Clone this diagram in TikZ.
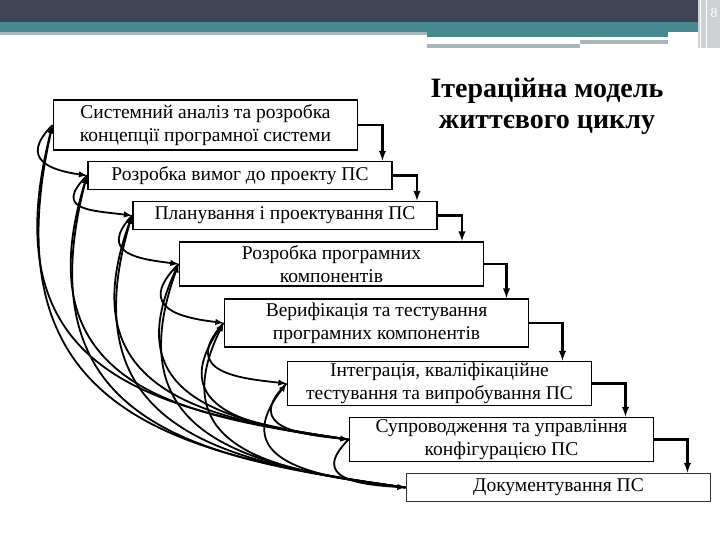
\documentclass[tikz,border=0pt]{standalone}
\usepackage{fontspec}
\setmainfont{Liberation Serif}
\usetikzlibrary{calc}
\definecolor{hdrdark}{HTML}{3E4356}
\definecolor{hdrteal}{HTML}{468A8F}
\definecolor{hdrgrey}{HTML}{A7B8BD}
\definecolor{hdrlight}{HTML}{CBD1D5}
\tikzset{
  stage/.style={draw, line width=1.9pt, fill=white, minimum width=304pt, minimum height=28pt, inner sep=1pt, align=center, font=\fontsize{19.5}{23}\selectfont},
  stepline/.style={line width=2.3pt, -latex},
  feedline/.style={line width=1.8pt, -latex},
}
\def\feedcurve(#1)(#2)(#3)(#4){\draw[feedline] (#1.west) .. controls +(#3) and +(#4) .. (#2.west);}

\begin{document}
\begin{tikzpicture}[x=1pt, y=-1pt]
		\useasboundingbox (0, 0) rectangle (720, 540);
		%%%%% HEADER %%%%%
		\fill[hdrdark] (0, 0) rectangle (698, 22);
		\fill[hdrteal] (0, 22) rectangle (698, 32);
		\fill[hdrgrey] (0, 32) rectangle (427, 35);
		\fill[hdrteal] (427, 32) rectangle (668, 37);
		\fill[hdrgrey] (580, 40) rectangle (668, 44);
		\fill[hdrgrey] (427, 44) rectangle (580, 48);
		\fill[hdrlight] (698, 0) rectangle (720, 48);
		\draw[white, line width=1pt] (700, 0) -- (700, 48);
		\draw[white, line width=1pt] (706, 0) -- (706, 48);
		\node[white, inner sep=0pt, font=\fontsize{14}{14}\selectfont] (pagenum) at (714, 13) {8};
		
		%%%%% TITLE %%%%%
		\node[align=center, font=\fontsize{28}{31}\selectfont\bfseries] (title) at (547, 106) {Ітераційна модель\\життєвого циклу};
		
		%%%%% STAGES %%%%%
		\node[stage, minimum height=50pt] (b1) at (205.5, 125) {Системний аналіз та розробка\\концепції програмної системи};
		\node[stage] (b2) at (240, 175.5) {Розробка вимог до проекту ПС};
		\node[stage] (b3) at (285, 215.5) {Планування і проектування ПС};
		\node[stage, minimum height=44pt] (b4) at (331.5, 264) {Розробка програмних\\компонентів};
		\node[stage, minimum height=48pt] (b5) at (376.5, 323) {Верифікація та тестування\\програмних компонентів};
		\node[stage, minimum height=44pt] (b6) at (439.5, 383.5) {Інтеграція, кваліфікаційне\\тестування та випробування ПС};
		\node[stage, minimum height=44pt] (b7) at (501.5, 439.5) {Супроводження та управління\\конфігурацією ПС};
		\node[stage, draw=black!80] (b8) at (558.5, 487.5) {Документування ПС};
		
		%%%%% STEPS %%%%%
		\draw[stepline] (b1.east) -- ++(24, 0) coordinate (s1) -- (s1 |- b2.north);
		\draw[stepline] (b2.east) -- ++(24, 0) coordinate (s2) -- (s2 |- b3.north);
		\draw[stepline] (b3.east) -- ++(24, 0) coordinate (s3) -- (s3 |- b4.north);
		\draw[stepline] (b4.east) -- ++(22, 0) coordinate (s4) -- (s4 |- b5.north);
		\draw[stepline] (b5.east) -- ++(33, 0) coordinate (s5) -- (s5 |- b6.north);
		\draw[stepline] (b6.east) -- ++(33, 0) coordinate (s6) -- (s6 |- b7.north);
		\draw[stepline] (b7.east) -- ++(33, 0) coordinate (s7) -- (s7 |- b8.north);
		
		%%%%% LOOPS %%%%%
		\feedcurve(b1)(b2)(-35, 35)(-35, -5)
		\feedcurve(b2)(b3)(-35, 35)(-40, -5)
		\feedcurve(b3)(b4)(-35, 38)(-40, -5)
		\feedcurve(b4)(b5)(-45, 45)(-40, -5)
		\feedcurve(b5)(b6)(-45, 50)(-45, -5)
		\feedcurve(b6)(b7)(-45, 45)(-45, -5)
		\feedcurve(b7)(b8)(-40, 40)(-45, -3)
		
		%%%%% BACK TO EARLIER STAGES %%%%%
		\feedcurve(b8)(b1)(-229, -32.5)(-65, 290)
		\feedcurve(b7)(b1)(-192, -28.5)(-65, 252)
		\feedcurve(b8)(b2)(-207, -28.5)(-65, 250)
		\feedcurve(b7)(b2)(-170, -23.5)(-65, 211)
		\feedcurve(b8)(b3)(-177, -24.5)(-65, 218)
		\feedcurve(b7)(b3)(-140, -20.5)(-65, 179)
		\feedcurve(b8)(b4)(-148, -20.5)(-65, 179)
		\feedcurve(b7)(b4)(-110, -16.5)(-65, 140)
		\feedcurve(b8)(b5)(-118, -15.5)(-65, 132)
		\feedcurve(b7)(b5)(-81, -10.5)(-65, 93)
		\feedcurve(b8)(b6)(-77, -9.5)(-65, 83)
	\end{tikzpicture}
\end{document}
